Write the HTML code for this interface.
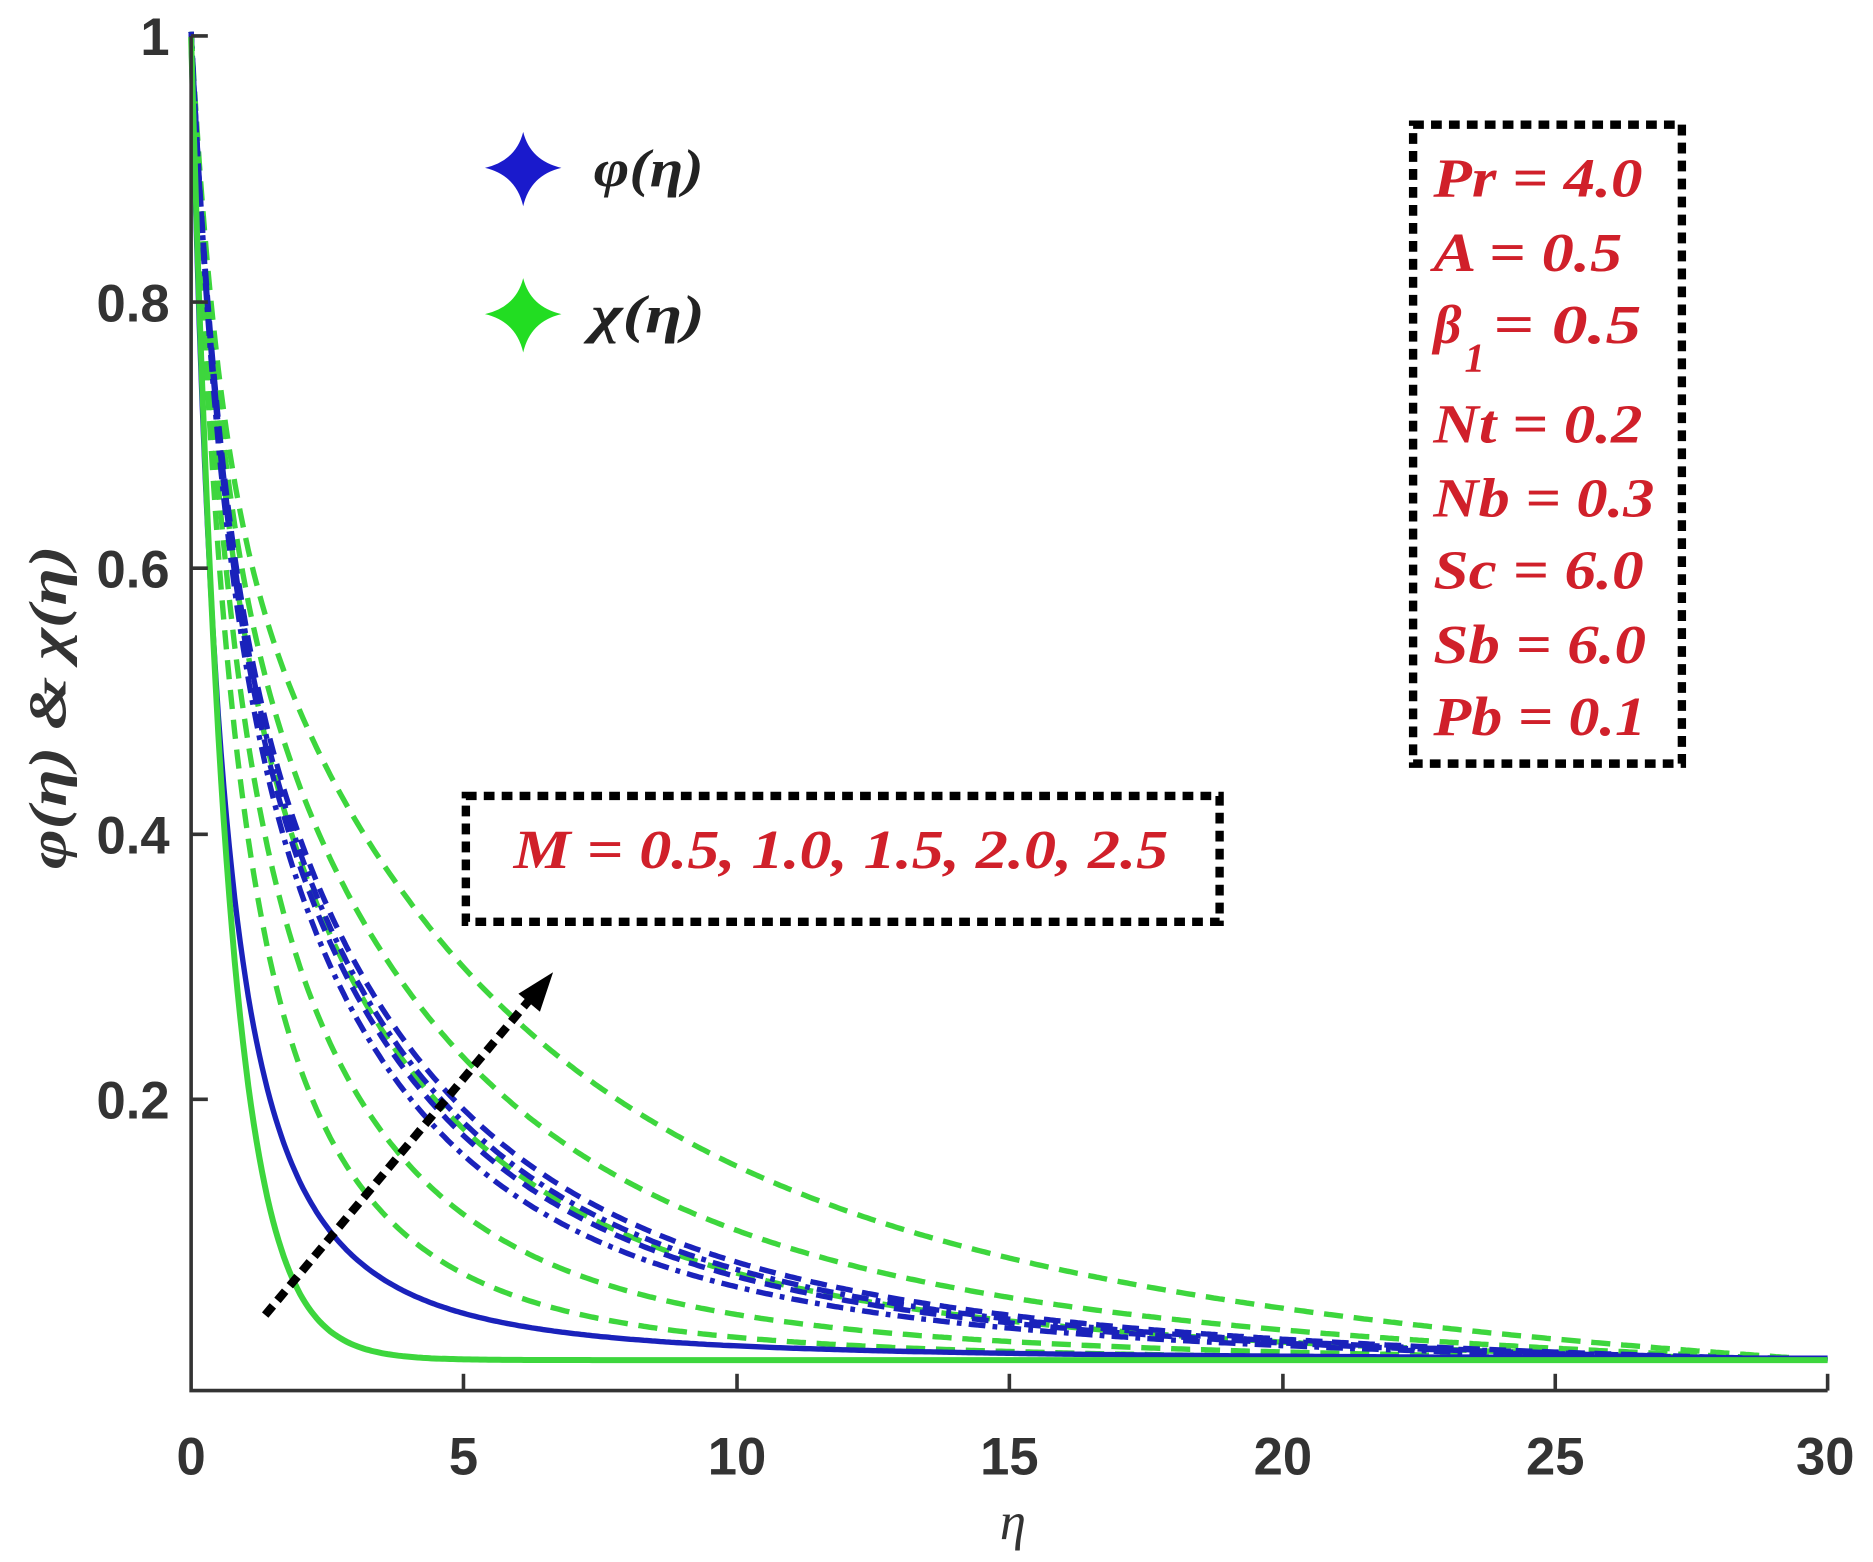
<!DOCTYPE html>
<html><head><meta charset="utf-8"><style>
html,body{margin:0;padding:0;background:#fff;}
svg{display:block;}
</style></head><body>
<svg id="s" width="1873" height="1562" viewBox="0 0 1568 1303" preserveAspectRatio="none" xmlns="http://www.w3.org/2000/svg">
<rect width="1568" height="1303" fill="#fff"/>
<g id="curves" fill="none"></g>
<path d="M160 30 V1160 H1530" stroke="#333" stroke-width="3" fill="none"/>
<g stroke="#333" stroke-width="3">
<line x1="160" y1="30" x2="174" y2="30"/><line x1="160" y1="252" x2="174" y2="252"/>
<line x1="160" y1="474" x2="174" y2="474"/><line x1="160" y1="696" x2="174" y2="696"/>
<line x1="160" y1="917" x2="174" y2="917"/>
<line x1="388" y1="1160" x2="388" y2="1146"/><line x1="617" y1="1160" x2="617" y2="1146"/>
<line x1="845" y1="1160" x2="845" y2="1146"/><line x1="1074" y1="1160" x2="1074" y2="1146"/>
<line x1="1302" y1="1160" x2="1302" y2="1146"/><line x1="1530" y1="1160" x2="1530" y2="1146"/>
</g>
<g font-family="Liberation Sans, sans-serif" font-weight="bold" font-size="44" fill="#333">
<g text-anchor="end">
<text x="142" y="46">1</text><text x="142" y="268">0.8</text><text x="142" y="490">0.6</text>
<text x="142" y="712">0.4</text><text x="142" y="933">0.2</text>
</g>
<g text-anchor="middle">
<text x="160" y="1230">0</text><text x="388" y="1230">5</text><text x="617" y="1230">10</text>
<text x="845" y="1230">15</text><text x="1074" y="1230">20</text><text x="1302" y="1230">25</text>
<text x="1528" y="1230">30</text>
</g>
</g>
<text x="848" y="1284" text-anchor="middle" font-family="Liberation Serif, serif" font-style="italic" font-size="44" fill="#333">η</text>
<text transform="translate(55,590) rotate(-90)" text-anchor="middle" font-family="Liberation Serif, serif" font-style="italic" font-weight="bold" font-size="44" fill="#333" textLength="270" lengthAdjust="spacingAndGlyphs">φ(η) &amp; χ(η)</text>
<path d="M438 110 Q444 134 470 140 Q444 146 438 172 Q432 146 406 140 Q432 134 438 110Z" fill="#1a1acc"/>
<path d="M438 232 Q444 256 470 262 Q444 268 438 294 Q432 268 406 262 Q432 256 438 232Z" fill="#22dd22"/>
<g font-family="Liberation Serif, serif" font-style="italic" font-weight="bold" font-size="44" fill="#222">
<text x="497" y="155" textLength="92" lengthAdjust="spacingAndGlyphs">φ(η)</text><text x="495" y="277" textLength="95" lengthAdjust="spacingAndGlyphs">χ(η)</text>
</g>
<g fill="none" stroke="#000" stroke-width="7" stroke-dasharray="9 6">
<rect x="1183" y="104" width="225" height="533"/>
<rect x="390" y="664" width="631" height="105"/>
</g>
<g font-family="Liberation Serif, serif" font-style="italic" font-weight="bold" font-size="46" fill="#d0202a" lengthAdjust="spacingAndGlyphs">
<text x="430" y="724" textLength="548" lengthAdjust="spacingAndGlyphs">M  = 0.5, 1.0, 1.5, 2.0, 2.5</text>
<text x="1200" y="164" textLength="175" lengthAdjust="spacingAndGlyphs">Pr = 4.0</text>
<text x="1200" y="226" textLength="158" lengthAdjust="spacingAndGlyphs">A = 0.5</text>
<text x="1200" y="286">β</text><text x="1226" y="310" font-size="34">1</text><text x="1250" y="286" textLength="124" lengthAdjust="spacingAndGlyphs">= 0.5</text>
<text x="1200" y="369" textLength="175" lengthAdjust="spacingAndGlyphs">Nt = 0.2</text>
<text x="1200" y="431" textLength="185" lengthAdjust="spacingAndGlyphs">Nb = 0.3</text>
<text x="1200" y="491" textLength="176" lengthAdjust="spacingAndGlyphs">Sc = 6.0</text>
<text x="1200" y="553" textLength="178" lengthAdjust="spacingAndGlyphs">Sb = 6.0</text>
<text x="1200" y="613" textLength="178" lengthAdjust="spacingAndGlyphs">Pb = 0.1</text>
</g>
<line x1="222" y1="1097" x2="450" y2="826" stroke="#000" stroke-width="7" stroke-dasharray="10 6"/>
<path d="M463 811 L434 829 L452 844 Z" fill="#000"/>
</svg>
<script>
(function(){
var g=document.getElementById('curves');
function X(e){return 160+e*(1370/30);}
function Y(v){return 1139-v*1108;}
function add(f,color,dash,w){
 var d='';
 for(var i=0;i<=600;i++){var e=i*0.05;var v=f(e);d+=(i?'L':'M')+X(e).toFixed(1)+' '+Y(v).toFixed(1);}
 var p=document.createElementNS('http://www.w3.org/2000/svg','path');
 p.setAttribute('d',d);p.setAttribute('stroke',color);p.setAttribute('stroke-width',w||4.5);
 if(dash)p.setAttribute('stroke-dasharray',dash);
 g.appendChild(p);
}
function mk(v5){
 var s=5/(Math.pow(0.7/v5,1/3)-1);
 return function(e){return 0.3*Math.exp(-2*e)+0.7*Math.pow(1+e/s,-3)-0.7*Math.pow(1+30/s,-3)*(e/30)+0.004;};
}
var greens=[0.30,0.23,0.175,0.11,0.065];
var blues=[0.19,0.18,0.17,0.155];
greens.forEach(function(v){add(mk(v),'#3dd63d','16 9');});
blues.forEach(function(v,i){add(mk(v),'#1a22bb',i%2?'14 6 4 6':'14 8');});
add(function(e){return Math.pow(1+e/1.157,-2)*0.995+0.004;},'#1a22bb',null,4.5);
add(function(e){return 0.996*Math.exp(-1.5*e)+0.004;},'#3dd63d',null,5);
})();
</script>
</body></html>
